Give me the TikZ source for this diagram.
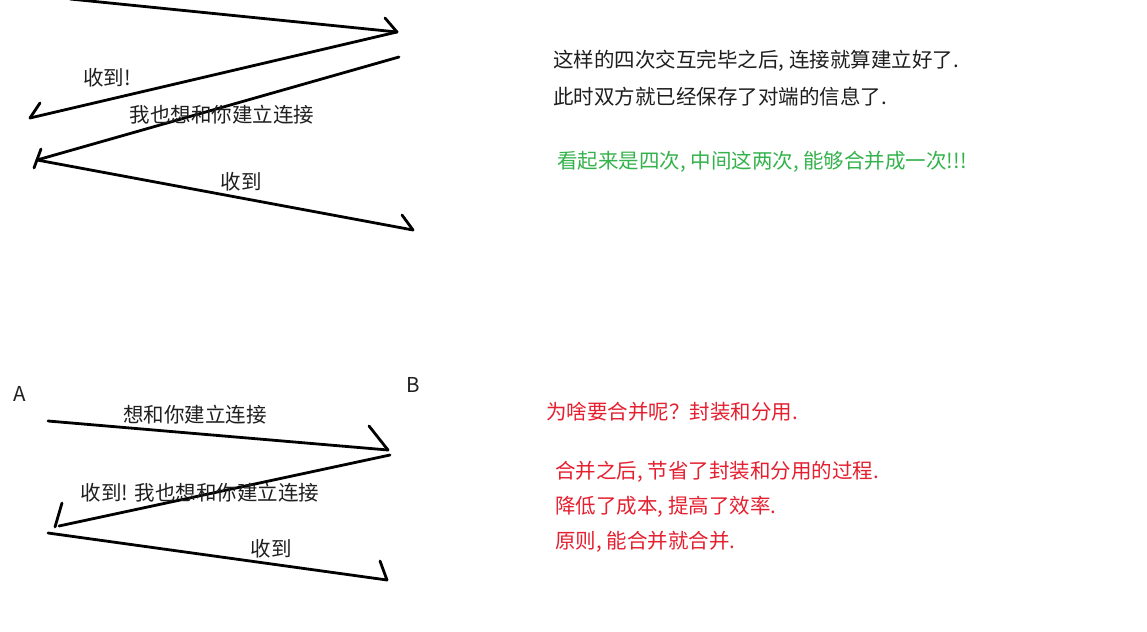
\documentclass[tikz,border=0pt]{standalone}
\usepackage{fontspec}
\setmainfont{Noto Sans CJK SC}
\begin{document}
\begin{tikzpicture}[x=1pt,y=-1pt,
  stroke/.style={line width=2.8pt,line cap=round,black},
  lbl/.style={inner sep=0pt,font=\fontsize{20.5}{24}\selectfont,text=black!88},
  txt/.style={inner sep=0pt,anchor=west,font=\fontsize{20.5}{24}\selectfont},
]
\definecolor{tgreen}{RGB}{52,178,76}
\definecolor{tred}{RGB}{228,32,48}
\definecolor{tblack}{RGB}{30,30,30}
\useasboundingbox[fill=white] (0,0) rectangle (1147,631);

% ---------- top diagram ----------
\coordinate (t0) at (70,-1);
\coordinate (t1) at (397,32);
\coordinate (t1b) at (385,18);
\coordinate (t2) at (30,118);
\coordinate (t2b) at (40,103);
\coordinate (t3s) at (399,57);
\coordinate (t3) at (37,160);
\coordinate (t3a) at (41,149);
\coordinate (t3c) at (34,168);
\coordinate (t4) at (413,230);
\coordinate (t4b) at (402,215);

\draw[stroke] (t0) -- (t1);
\draw[stroke] (t1b) -- (t1);
\draw[stroke] (t1) -- (t2);
\draw[stroke] (t2b) -- (t2);
\draw[stroke] (t3s) -- (t3);
\draw[stroke] (t3a) -- (t3c);
\draw[stroke] (t3) -- (t4);
\draw[stroke] (t4b) -- (t4);

\node[lbl] (l1) at (107,78) {收到!};
\node[lbl] (l2) at (222,115) {我也想和你建立连接};
\node[lbl] (l3) at (241,182) {收到};

% ---------- bottom diagram ----------
\node[lbl] (A) at (20,394) {A};
\node[lbl] (B) at (413,385) {B};

\coordinate (b0) at (48,421);
\coordinate (b1) at (388,450);
\coordinate (b1b) at (369,426);
\coordinate (b2s) at (390,455);
\coordinate (b2) at (59,526);
\coordinate (b2a) at (62,503);
\coordinate (b2c) at (55,527);
\coordinate (b3s) at (48,533);
\coordinate (b3) at (387,580);
\coordinate (b3b) at (380,561);

\draw[stroke] (b0) -- (b1);
\draw[stroke] (b1b) -- (b1);
\draw[stroke] (b2s) -- (b2);
\draw[stroke] (b2a) -- (b2c);
\draw[stroke] (b3s) -- (b3);
\draw[stroke] (b3b) -- (b3);

\node[lbl] (m1) at (195,415) {想和你建立连接};
\node[lbl] (m2) at (200,493) {收到! 我也想和你建立连接};
\node[lbl] (m3) at (271,549) {收到};

% ---------- right text ----------
\node[txt,text=tblack] (r1) at (553,61) {这样的四次交互完毕之后, 连接就算建立好了.};
\node[txt,text=tblack] (r2) at (553,97) {此时双方就已经保存了对端的信息了.};
\node[txt,text=tgreen] (r3) at (557,162) {看起来是四次, 中间这两次, 能够合并成一次!!!};

\node[txt,text=tred] (s1) at (546,412) {为啥要合并呢？封装和分用.};
\node[txt,text=tred] (s2) at (555,472) {合并之后, 节省了封装和分用的过程.};
\node[txt,text=tred] (s3) at (555,507) {降低了成本, 提高了效率.};
\node[txt,text=tred] (s4) at (555,542) {原则, 能合并就合并.};
\end{tikzpicture}
\end{document}
